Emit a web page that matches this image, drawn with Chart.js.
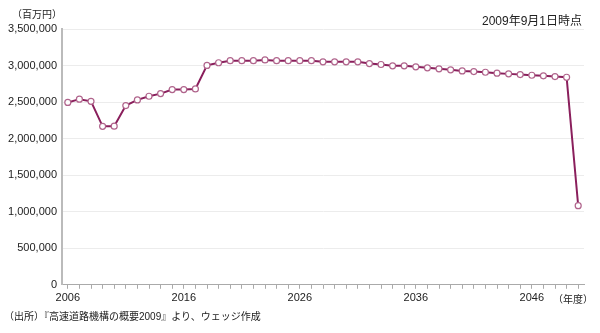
<!DOCTYPE html>
<html>
<head>
<meta charset="utf-8">
<script src="https://cdn.jsdelivr.net/npm/chart.js@4"></script>
<style>
  body { margin: 0; background: #fff; }
  #wrap { position: relative; width: 600px; height: 333px; font-family: "Liberation Sans", "Noto Sans CJK JP", sans-serif; color: #222; }
  .txt { position: absolute; font-size: 10px; white-space: nowrap; }
</style>
</head>
<body>
<div id="wrap">
  <canvas id="chart0" width="600" height="333"></canvas>
  <div class="txt" style="left:12px; top:6px;">（百万円）</div>
  <div class="txt" style="right:18px; top:11px; font-size:12px;">2009年9月1日時点</div>
  <div class="txt" style="left:553px; top:291px;">（年度）</div>
  <div class="txt" style="left:4px; top:308px;">（出所）『高速道路機構の概要2009』より、ウェッジ作成</div>
</div>
<script>
var years = [];
for (var y = 2006; y <= 2050; y++) years.push(String(y));

var debtBalance = [
  2495000, 2540000, 2510000, 2168000, 2170000, 2452000, 2530000, 2580000, 2616000, 2671000,
  2671000, 2680000, 3002000, 3038000, 3066000, 3066000, 3066000, 3077000, 3066000, 3066000,
  3066000, 3066000, 3051000, 3051000, 3051000, 3051000, 3027000, 3014000, 2996000, 2996000,
  2982000, 2969000, 2955000, 2941000, 2927000, 2918000, 2908000, 2895000, 2886000, 2877000,
  2867000, 2859000, 2849000, 2840000, 1082000
];

var yTicks = [0, 500000, 1000000, 1500000, 2000000, 2500000, 3000000, 3500000];

var ctx = document.getElementById("chart0").getContext("2d");

var chart0 = new Chart(ctx, {
  type: "line",
  data: {
    labels: years,
    datasets: [{
      data: debtBalance,
      borderColor: "#8a1f5c",
      borderWidth: 2,
      pointRadius: 3,
      pointBorderWidth: 1.2,
      pointBackgroundColor: "#ffffff",
      pointBorderColor: "#b0648c",
      tension: 0
    }]
  },
  options: {
    responsive: false,
    animation: false,
    layout: { padding: { top: 29, right: 16, bottom: 25, left: 0 } },
    plugins: { legend: { display: false }, tooltip: { enabled: false } },
    scales: {
      x: {
        offset: true,
        grid: { drawOnChartArea: false, drawTicks: true, tickLength: 4, tickColor: "#aaa", offset: false },
        border: { color: "#aaa", width: 1 },
        ticks: {
          autoSkip: false,
          maxRotation: 0,
          padding: 3,
          color: "#222",
          font: { family: "Liberation Sans", size: 11 },
          callback: function(v, i) {
            return (i % 10 === 0) ? years[i] : "";
          }
        }
      },
      y: {
        min: 0,
        max: 3500000,
        afterBuildTicks: function(s) { s.ticks = yTicks.map(function(v) { return { value: v }; }); },
        afterFit: function(s) { s.width = 62; },
        grid: { color: "#ececec", drawTicks: false },
        border: { color: "#bbb", width: 2 },
        ticks: {
          padding: 5,
          color: "#222",
          font: { family: "Liberation Sans", size: 11 },
          callback: function(v) { return v.toLocaleString("en-US"); }
        }
      }
    }
  }
});
</script>
</body>
</html>
